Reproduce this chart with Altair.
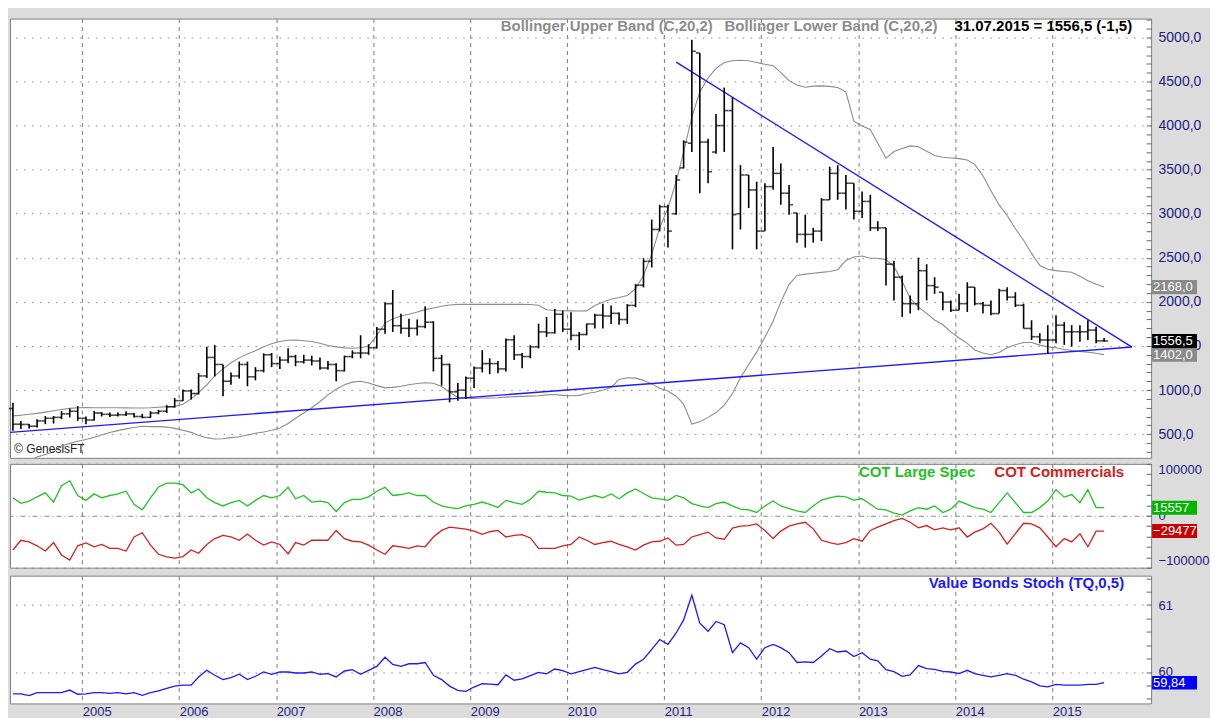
import altair as alt
import pandas as pd

FONT = "Liberation Sans"
NAVY = "#1c1c80"

# ---------------- data (monthly, Apr 2004 .. Jul 2015) ----------------
month_years = [2004] * 9 + [y for y in range(2005, 2015) for _ in range(12)] + [2015] * 7
month_nums = list(range(4, 13)) + list(range(1, 13)) * 10 + list(range(1, 8))
dates = [f"{y}-{m:02d}-15T00:00:00" for y, m in zip(month_years, month_nums)]

bar_open = [
    790, 613, 610, 590, 650, 680, 690, 730, 760,
    680, 660, 740, 725, 715, 720, 730, 700, 690, 740, 760, 810,
    880, 990, 960, 1160, 1370, 1290, 1100, 1160, 1290, 1150, 1220, 1400,
    1300, 1340, 1380, 1320, 1340, 1330, 1250, 1290, 1220, 1380, 1420, 1420,
    1480, 1690, 1980, 1730, 1700, 1700, 1720, 1770, 1360, 1290, 980, 1000,
    1135, 1250, 1300, 1300, 1240, 1570, 1400, 1380, 1490, 1660, 1650, 1860,
    1690, 1620, 1630, 1750, 1850, 1840, 1870, 1800, 1960, 2190, 2460, 2822,
    3080, 3000, 3520, 3800, 4824, 3813, 3700, 4000, 4170, 3000, 3440, 3270,
    2803, 3308, 3458, 3233, 3009, 2766, 2766, 2803, 3158, 3458, 3233, 3346,
    3028, 3140, 2840, 2840, 2428, 2280, 1980, 1980, 2354, 2185, 2110, 1998,
    1905, 1980, 2167, 1980, 1961, 1867, 2129, 2054, 1961, 1699, 1605, 1568,
    1568, 1736, 1661, 1661, 1661, 1680, 1558,
]
bar_high = [
    856, 650, 615, 669, 706, 706, 762, 790, 818,
    700, 762, 750, 745, 745, 760, 740, 730, 760, 775, 830, 910,
    1005, 1005, 1192, 1492, 1510, 1290, 1200, 1323, 1323, 1260, 1417, 1420,
    1380, 1473, 1400, 1400, 1390, 1370, 1330, 1305, 1390, 1450, 1622, 1520,
    1716, 1996, 2135, 1865, 1809, 1800, 1950, 1780, 1400, 1300, 1080, 1154,
    1266, 1453, 1360, 1330, 1584, 1622, 1420, 1509, 1753, 1828, 1921, 1903,
    1884, 1659, 1753, 1865, 1978, 1960, 1880, 1975, 2204, 2495, 2934, 3102,
    3102, 3439, 3832, 4974, 4824, 3851, 4132, 4431, 4319, 3551, 3440, 3364,
    3346, 3757, 3570, 3327, 3009, 2990, 2840, 3177, 3533, 3551, 3440, 3346,
    3252, 3215, 2915, 2840, 2466, 2298, 2073, 2503, 2428, 2280, 2110, 2017,
    2092, 2223, 2167, 1998, 2017, 2148, 2167, 2110, 1980, 1792, 1643, 1736,
    1849, 1774, 1736, 1736, 1792, 1717, 1590,
]
bar_low = [
    538, 557, 565, 575, 613, 620, 669, 690, 650,
    613, 655, 700, 695, 700, 705, 690, 680, 685, 725, 740, 800,
    875, 893, 950, 1136, 1155, 931, 1060, 1130, 1043, 1110, 1200, 1260,
    1240, 1305, 1270, 1300, 1280, 1230, 1230, 1100, 1210, 1360, 1360, 1400,
    1470, 1640, 1660, 1640, 1603, 1620, 1700, 1210, 1050, 860, 880, 900,
    1023, 1200, 1180, 1190, 1210, 1340, 1247, 1360, 1472, 1603, 1641, 1659,
    1566, 1453, 1622, 1697, 1697, 1750, 1740, 1750, 1940, 2165, 2391, 2800,
    2616, 2990, 3514, 3701, 3233, 3346, 3682, 3701, 2597, 2822, 3065, 2597,
    2803, 3271, 3102, 2990, 2672, 2616, 2672, 2690, 3158, 3158, 3047, 2934,
    2953, 2803, 2803, 2185, 2017, 1830, 1867, 1905, 2017, 2092, 1905, 1886,
    1905, 1886, 1961, 1867, 1849, 1867, 2017, 1942, 1699, 1568, 1530, 1418,
    1530, 1512, 1493, 1549, 1568, 1530, 1548,
]
bar_close = [
    613, 610, 590, 650, 680, 690, 730, 760, 680,
    660, 740, 725, 715, 720, 730, 700, 690, 740, 760, 810, 880,
    990, 960, 1160, 1370, 1290, 1100, 1160, 1290, 1150, 1220, 1400, 1300,
    1340, 1380, 1320, 1340, 1330, 1250, 1290, 1220, 1380, 1420, 1420, 1480,
    1690, 1980, 1730, 1700, 1700, 1720, 1770, 1360, 1290, 980, 1000, 1135,
    1250, 1300, 1300, 1240, 1570, 1400, 1380, 1490, 1660, 1650, 1860, 1690,
    1620, 1630, 1750, 1850, 1840, 1870, 1800, 1960, 2190, 2460, 2822, 3080,
    2803, 3383, 3813, 4843, 3813, 3477, 4000, 4170, 2990, 3440, 3270, 2803,
    3308, 3458, 3233, 3102, 2766, 2766, 2803, 3158, 3458, 3233, 3346, 3028,
    3140, 2840, 2840, 2428, 2280, 1980, 1980, 2354, 2185, 2167, 1998, 1905,
    1980, 2167, 1980, 1961, 1867, 2129, 2054, 1961, 1699, 1605, 1568, 1568,
    1736, 1661, 1661, 1661, 1680, 1558, 1556.5,
]
boll_upper = [
    707, 715, 725, 735, 750, 765, 780, 792, 800,
    802, 800, 800, 800, 800, 798, 796, 797, 800, 805, 812, 815,
    840, 900, 970, 1060, 1160, 1240, 1310, 1365, 1410, 1445, 1490, 1525,
    1550, 1565, 1568, 1560, 1550, 1530, 1505, 1490, 1478, 1474, 1480, 1500,
    1620, 1760, 1810, 1840, 1860, 1885, 1912, 1930, 1950, 1965, 1972, 1972,
    1972, 1972, 1972, 1972, 1972, 1972, 1972, 1970, 1962, 1910, 1902, 1900,
    1898, 1897, 1898, 1960, 2000, 2030, 2050, 2073, 2150, 2300, 2540, 2840,
    3065, 3364, 3700, 4100, 4380, 4540, 4650, 4715, 4735, 4742, 4735, 4715,
    4695, 4680, 4600, 4510, 4460, 4435, 4448, 4450, 4445, 4432, 4380, 4050,
    3995, 3957, 3800, 3630, 3705, 3740, 3770, 3760, 3710, 3660, 3640, 3632,
    3625, 3610, 3560, 3430, 3260, 3100, 2980, 2830, 2700, 2550, 2412, 2370,
    2355, 2345, 2337, 2290, 2240, 2200, 2168,
]
boll_lower = [
    150, 170, 200, 240, 270, 300, 365, 395, 420,
    440, 465, 490, 518, 540, 560, 575, 590, 585, 585, 580, 565,
    545, 520, 485, 460, 445, 448, 460, 470, 490, 510, 525, 545,
    570, 620, 680, 740, 800, 870, 945, 1010, 1060, 1090, 1100, 1080,
    1050, 1025, 1030, 1044, 1060, 1075, 1082, 1078, 1040, 975, 920, 905,
    905, 910, 910, 913, 920, 925, 928, 931, 935, 945, 950, 940,
    935, 940, 960, 975, 1000, 1030, 1120, 1140, 1135, 1110, 1070, 1020,
    990, 930, 840, 615, 640, 690, 745, 830, 960, 1140, 1290, 1430,
    1600, 1780, 2000, 2200, 2300, 2315, 2325, 2335, 2345, 2365, 2470, 2510,
    2520, 2495, 2495, 2480, 2400, 2230, 2040, 1940, 1870, 1795, 1740, 1660,
    1590, 1530, 1455, 1420, 1400, 1425, 1480, 1515, 1540, 1540, 1510, 1490,
    1480, 1460, 1448, 1438, 1430, 1418, 1402,
]
cot_large_spec = [
    34600, 23900, 28300, 36500, 44000, 26400, 57900, 67300, 39000,
    29600, 42100, 34600, 39000, 42100, 47200, 22000, 11300, 34600, 55300, 62900, 62900,
    59800, 44000, 51600, 34600, 25200, 18900, 25200, 29600, 18900, 29600, 39000, 34600,
    39000, 54700, 32700, 39000, 26400, 28300, 25200, 8200, 25200, 31500, 31500, 36500,
    47200, 54700, 39000, 40900, 44000, 39000, 39000, 26400, 18900, 15700, 13800, 18900,
    22000, 26400, 22000, 15700, 29600, 25200, 22000, 31500, 47200, 45300, 44000, 39000,
    37700, 30200, 34600, 39000, 34600, 42100, 32700, 44000, 51600, 42800, 34600, 32700,
    29600, 39000, 34600, 23300, 18900, 15700, 23300, 26400, 18900, 12600, 11300, 6300,
    18900, 28300, 18900, 13800, 9400, 6300, 18900, 30200, 34600, 37700, 36500, 30200,
    32700, 22000, 12600, 11300, 5000, 1300, 9400, 15700, 12600, 18900, 6300, 12600,
    28300, 22000, 15700, 12600, 6300, 25200, 44000, 25200, 6300, 6300, 15700, 28300,
    50300, 35900, 40900, 25200, 50300, 15700, 15557,
]
cot_commercials = [
    -66000, -47200, -50300, -57900, -67900, -51600, -75500, -85500, -57900,
    -52200, -59800, -55300, -62900, -62900, -67900, -40900, -32700, -56600, -74200, -79300, -81800,
    -78600, -66000, -72300, -55300, -44000, -37700, -40900, -47200, -35200, -47200, -56600, -50300,
    -55300, -73600, -51600, -56600, -47200, -47200, -47200, -28300, -44000, -49100, -50300, -56600,
    -66000, -74200, -57900, -59800, -62900, -57900, -59800, -40900, -28300, -22000, -23900, -25800,
    -29600, -35900, -30800, -28300, -40900, -37700, -36500, -42800, -62900, -62900, -62900, -57900,
    -55300, -40900, -47200, -55300, -51600, -49100, -55300, -59800, -66000, -56600, -50300, -49100,
    -42800, -56600, -55300, -40900, -36500, -31500, -42800, -45300, -23900, -20100, -18900, -15700,
    -28300, -44000, -29600, -20100, -15700, -12600, -25200, -47200, -51600, -55300, -51600, -44000,
    -49100, -28300, -22000, -15700, -9400, -5000, -12600, -23300, -18900, -27000, -23300, -27000,
    -23300, -41000, -31500, -25200, -14500, -31500, -54700, -34600, -14500, -15700, -23300, -41000,
    -59800, -44000, -50300, -34600, -59800, -29600, -29477,
]
bonds_stoch = [
    59.672, 59.672, 59.647, 59.691, 59.691, 59.691, 59.691, 59.730, 59.667,
    59.672, 59.691, 59.691, 59.681, 59.691, 59.672, 59.691, 59.652, 59.691, 59.716, 59.755, 59.789,
    59.804, 59.804, 59.926, 60.025, 59.951, 59.887, 59.917, 59.966, 59.887, 59.936, 60.000, 59.966,
    60.000, 60.000, 59.985, 59.985, 60.000, 59.966, 59.975, 59.926, 60.015, 60.034, 59.966, 60.025,
    60.083, 60.221, 60.113, 60.083, 60.123, 60.123, 60.142, 59.951, 59.887, 59.789, 59.725, 59.711,
    59.775, 59.824, 59.819, 59.809, 59.956, 59.877, 59.897, 59.946, 59.995, 59.971, 60.044, 60.020,
    59.971, 60.005, 60.034, 60.069, 60.034, 60.005, 59.971, 59.995, 60.118, 60.191, 60.338, 60.485,
    60.412, 60.583, 60.779, 61.147, 60.730, 60.608, 60.755, 60.706, 60.289, 60.436, 60.363, 60.191,
    60.363, 60.412, 60.363, 60.289, 60.142, 60.152, 60.142, 60.240, 60.348, 60.299, 60.314, 60.230,
    60.289, 60.191, 60.167, 60.034, 60.005, 59.936, 59.956, 60.095, 60.049, 60.039, 60.010, 60.000,
    59.975, 60.025, 59.975, 59.951, 59.926, 59.951, 59.975, 59.951, 59.892, 59.853, 59.794, 59.779,
    59.814, 59.804, 59.804, 59.804, 59.814, 59.814, 59.840,
]

# trend lines (two straight lines of the triangle)
trend_ids = ["upper", "upper", "lower", "lower"]
trend_dates = ["2011-02-15T00:00:00", "2015-10-28T00:00:00", "2004-04-04T00:00:00", "2015-10-28T00:00:00"]
trend_values = [4720, 1488, 520, 1488]

# last-value tags on the right axis
top_tag_values = [1402.0, 2168.0, 1556.5]
top_tag_colors = ["#8a8a8a", "#8a8a8a", "#000000"]
cot_tag_values = [15557, -29477]
cot_tag_colors = ["#00b400", "#c80000"]
stoch_tag_values = [59.84]
stoch_tag_colors = ["#0000ff"]

year_ticks = list(range(2005, 2016))

# ---------------- layout ----------------
W = 1143
H_TOP, H_MID, H_BOT = 440, 104, 128

df = pd.DataFrame({
    "date": pd.to_datetime(dates), "open": bar_open, "high": bar_high, "low": bar_low,
    "close": bar_close, "upper": boll_upper, "lower": boll_lower,
    "spec": cot_large_spec, "comm": cot_commercials, "stoch": bonds_stoch,
})
trend_df = pd.DataFrame({"line": trend_ids, "date": pd.to_datetime(trend_dates), "v": trend_values})

x_scale = alt.Scale(domain=[alt.DateTime(year=2004, month=4, date=4),
                            alt.DateTime(year=2016, month=1, date=8)])
year_vals = [alt.DateTime(year=y, month=1, date=1) for y in year_ticks]
grid_x = dict(grid=True, gridColor="#7a7a7a", gridDash=[4, 4], gridWidth=1, domain=False, ticks=False, title=None)
x_plain = alt.X("date:T", scale=x_scale, axis=alt.Axis(values=year_vals, labels=False, **grid_x))
x_labeled = alt.X("date:T", scale=x_scale, axis=alt.Axis(
    values=year_vals, labels=True, format="%Y", labelAlign="left", labelBaseline="top",
    labelPadding=2, labelFlush=False, labelColor=NAVY, labelFont=FONT, labelFontSize=13, **grid_x))


def y_axis(values, label_expr, test, size=14, flush=False, grid_dash=None):
    return alt.Axis(
        orient="right", values=values, title=None, domain=False,
        labelExpr=label_expr, labelOverlap=False, labelFlush=flush,
        labelColor=NAVY, labelFont=FONT, labelFontSize=size, labelPadding=7,
        ticks=True, tickColor="#666666", tickSize=5, offset=-5,
        grid=True, gridColor="#8c8c8c",
        gridDash=grid_dash if grid_dash is not None else [1.5, 6.5],
        gridOpacity={"condition": {"test": test, "value": 1}, "value": 0},
    )


def legend(txt, x_right, y, color, size=15):
    return alt.Chart(pd.DataFrame({"t": [txt]})).mark_text(
        align="right", baseline="middle", font=FONT, fontSize=size, fontWeight="bold", color=color
    ).encode(x=alt.value(x_right), y=alt.value(y), text="t:N")


def tags(values, colors, half, fmt_expr, y_scale, y_ax):
    d = pd.DataFrame({"v": values, "fill": colors})
    base_t = alt.Chart(d).transform_calculate(
        lo=f"datum.v - {half}", hi=f"datum.v + {half}", lab=fmt_expr)
    box = base_t.mark_rect(clip=False).encode(
        x=alt.value(W + 1), x2=alt.value(W + 46),
        y=alt.Y("lo:Q", scale=y_scale, axis=y_ax), y2="hi:Q",
        color=alt.Color("fill:N", scale=None))
    txt = base_t.mark_text(align="left", baseline="middle", font=FONT, fontSize=13, color="white").encode(
        x=alt.value(W + 2), y=alt.Y("v:Q", scale=y_scale, axis=y_ax), text="lab:N")
    return box + txt


# ---------------- top panel: price bars ----------------
y_top_scale = alt.Scale(domain=[231, 5214], nice=False, zero=False)
ax_top = y_axis(
    list(range(300, 5201, 100)),
    "datum.value % 500 === 0 ? replace(format(datum.value, '.1f'), '.', ',') : ''",
    "datum.value % 500 === 0")


def yt(field):
    return alt.Y(field, scale=y_top_scale, axis=ax_top)


base = alt.Chart(df)
upper_line = base.mark_line(color="#8c8c8c", strokeWidth=1.1, clip=True).encode(x=x_plain, y=yt("upper:Q"))
lower_line = base.mark_line(color="#8c8c8c", strokeWidth=1.1, clip=True).encode(x=x_plain, y=yt("lower:Q"))
trend = alt.Chart(trend_df).mark_line(color="#1a1aff", strokeWidth=1.4, clip=True).encode(
    x=x_plain, y=yt("v:Q"), detail="line:N")
hl = base.mark_rule(color="black", strokeWidth=1.6).encode(x=x_plain, y=yt("low:Q"), y2="high:Q")
op = base.mark_tick(orient="horizontal", color="black", thickness=1.6, size=4, xOffset=-2).encode(
    x=x_plain, y=yt("open:Q"))
cl = base.mark_tick(orient="horizontal", color="black", thickness=1.6, size=4, xOffset=2).encode(
    x=x_plain, y=yt("close:Q"))

top = alt.layer(
    upper_line, lower_line, trend, hl, op, cl,
    legend("Bollinger Upper Band (C,20,2)", 704, 7, "#8c8c8c"),
    legend("Bollinger Lower Band (C,20,2)", 929, 7, "#8c8c8c"),
    legend("31.07.2015 = 1556,5 (-1,5)", 1124, 7, "#000000"),
    alt.Chart(pd.DataFrame({"t": ["© GenesisFT"]})).mark_text(
        align="left", baseline="middle", font=FONT, fontSize=12, color="#222222"
    ).encode(x=alt.value(4), y=alt.value(H_TOP - 9), text="t:N"),
    tags(top_tag_values, top_tag_colors, 80, "replace(format(datum.v, '.1f'), '.', ',')", y_top_scale, ax_top),
).properties(width=W, height=H_TOP)

# ---------------- middle panel: COT ----------------
y_mid_scale = alt.Scale(domain=[-100000, 100000], nice=False, zero=False)
ax_mid = y_axis(
    list(range(-100000, 100001, 20000)),
    "datum.value % 100000 === 0 ? format(datum.value, 'd') : ''",
    "datum.value % 100000 === 0", size=13, flush=True,
    grid_dash={"condition": {"test": "datum.value === 0", "value": [5, 3, 1, 3]}, "value": [1.5, 6.5]})
mid = alt.layer(
    base.mark_line(color="#22c322", strokeWidth=1.3).encode(
        x=x_plain, y=alt.Y("spec:Q", scale=y_mid_scale, axis=ax_mid)),
    base.mark_line(color="#d42020", strokeWidth=1.3).encode(
        x=x_plain, y=alt.Y("comm:Q", scale=y_mid_scale, axis=ax_mid)),
    legend("COT Large Spec", 967, 8, "#22c322"),
    legend("COT Commercials", 1116, 8, "#d42020"),
    tags(cot_tag_values, cot_tag_colors, 13500, "format(datum.v, 'd')", y_mid_scale, ax_mid),
).properties(width=W, height=H_MID)

# ---------------- bottom panel: value bonds stoch ----------------
y_bot_scale = alt.Scale(domain=[59.53, 61.44], nice=False, zero=False)
ax_bot = y_axis(
    [59.6, 59.8, 60.0, 60.2, 60.4, 60.6, 60.8, 61.0, 61.2, 61.4],
    "abs(datum.value - round(datum.value)) < 0.01 ? format(datum.value, 'd') : ''",
    "abs(datum.value - round(datum.value)) < 0.01", size=13)
bot = alt.layer(
    base.mark_line(color="#1a1aff", strokeWidth=1.3).encode(
        x=x_labeled, y=alt.Y("stoch:Q", scale=y_bot_scale, axis=ax_bot)),
    legend("Value Bonds Stoch (TQ,0,5)", 1116, 7, "#1a1aff"),
    tags(stoch_tag_values, stoch_tag_colors, 0.1, "replace(format(datum.v, '.2f'), '.', ',')", y_bot_scale, ax_bot),
).properties(width=W, height=H_BOT)

chart = alt.vconcat(top, mid, bot, spacing=3).properties(
    background="#dcdcdc",
    padding={"left": 0, "top": 3, "right": 0, "bottom": 0},
).configure_view(fill="white", stroke="#808080", strokeWidth=1)

chart.save("out.html", embed_options={"renderer": "svg", "actions": False})
